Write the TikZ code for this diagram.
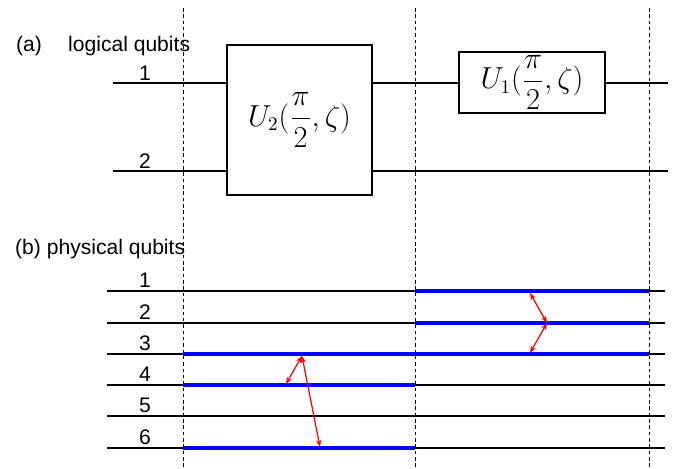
\documentclass[tikz,border=0pt]{standalone}
\usepackage{fontspec}
\setmainfont{Liberation Sans}
\usepackage{amsmath}
\usetikzlibrary{arrows.meta,positioning}

\tikzset{
  wire/.style={line width=0.7pt},
  busy/.style={blue, line width=1.8pt},
  cut/.style={dash pattern=on 2pt off 1.6pt, line width=0.5pt},
  gatebox/.style={draw, fill=white, line width=0.6pt, inner sep=0pt},
  swap/.style={red, line width=0.7pt, {Stealth[length=4pt,width=3pt]}-{Stealth[length=4pt,width=3pt]}},
  qlabel/.style={font=\fontsize{12}{14}\selectfont, anchor=base}
}

\begin{document}
\begin{tikzpicture}[x=0.02cm, y=-0.02cm]
    \useasboundingbox (0,0) rectangle (688,468);

    % time slices
    \draw[cut] (183,8) -- (183,468);
    \draw[cut] (415,8) -- (415,468);
    \draw[cut] (649,8) -- (649,468);

    % (a) logical qubits
    \node[qlabel, anchor=base west] (tagA) at (10,51) {(a)};
    \node[qlabel, anchor=base west] (titleA) at (62,51) {logical qubits};
    \node[qlabel] (l1) at (145,80) {1};
    \node[qlabel] (l2) at (145,168) {2};
    \coordinate (l1in) at (113,83);
    \coordinate (l1out) at (668,83);
    \coordinate (l2in) at (113,171);
    \coordinate (l2out) at (668,171);
    \draw[wire] (l1in) -- (l1out);
    \draw[wire] (l2in) -- (l2out);

    % gates
    \node[gatebox, minimum width=145*0.02cm, minimum height=150*0.02cm] (Utwo) at (299.5,120)
      {\fontsize{16}{18}\selectfont$U_2(\dfrac{\pi}{2},\zeta)$};
    \node[gatebox, minimum width=146*0.02cm, minimum height=61*0.02cm] (Uone) at (532,82.5)
      {\fontsize{16}{18}\selectfont$U_1(\dfrac{\pi}{2},\zeta)$};

    % (b) physical qubits
    \node[qlabel, anchor=base west] (titleB) at (9,254) {(b)\ physical qubits};
    \foreach \k/\y in {1/291,2/323,3/354,4/385,5/416,6/448} {
      \node[qlabel] (p\k) at (145,\y-4) {\k};
      \coordinate (p\k in) at (107,\y);
      \coordinate (p\k out) at (665,\y);
      \coordinate (p\k a) at (183,\y);
      \coordinate (p\k b) at (415,\y);
      \coordinate (p\k c) at (649,\y);
      \draw[wire] (p\k in) -- (p\k out);
    }

    % occupied physical qubits
    \draw[busy] (p3a) -- (p3c);
    \draw[busy] (p4a) -- (p4b);
    \draw[busy] (p6a) -- (p6b);
    \draw[busy] (p1b) -- (p1c);
    \draw[busy] (p2b) -- (p2c);

    % couplings
    \coordinate (hubL) at (302,356);
    \coordinate (endL4) at (286,384);
    \coordinate (endL6) at (320,447);
    \coordinate (hubR) at (547,323);
    \coordinate (endR1) at (530,293);
    \coordinate (endR3) at (530,353);
    \draw[swap] (hubL) -- (endL4);
    \draw[swap] (hubL) -- (endL6);
    \draw[swap] (endR1) -- (hubR);
    \draw[swap] (hubR) -- (endR3);
\end{tikzpicture}
\end{document}
